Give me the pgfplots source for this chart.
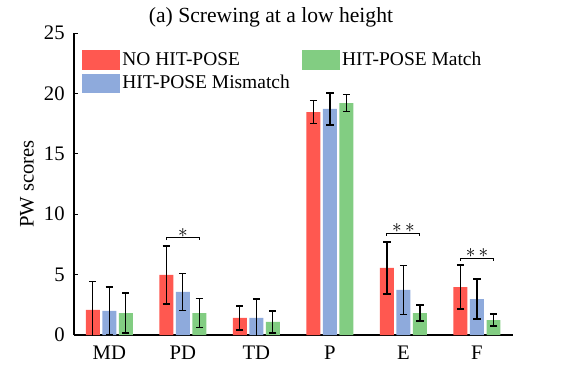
\documentclass[border=0pt]{standalone}
\usepackage{fontspec}
\setmainfont{Liberation Serif}
\usepackage{pgfplots}
\pgfplotsset{compat=1.18}
\definecolor{cRed}{RGB}{255,88,80}
\definecolor{cBlue}{RGB}{142,170,220}
\definecolor{cGreen}{RGB}{130,205,130}

\begin{document}
\begin{tikzpicture}
\begin{axis}[
  at={(0,0)}, anchor=south west,
  scale only axis, width=329.25pt, height=226.5pt,
  xmin=-0.48, xmax=5.49, ymin=0, ymax=25,
  axis x line*=bottom, axis y line*=left,
  axis line style={-, line width=0.8pt},
  ybar, bar width=0.19,
  xtick={0,...,5}, xticklabels={MD,PD,TD,P,E,F},
  ytick={0,5,...,25},
  tick align=inside, major tick length=3pt,
  tick style={black, line width=0.6pt},
  /pgf/number format/assume math mode=true,
  ticklabel style={font=\fontsize{15.5}{18}\selectfont},
  yticklabel style={xshift=-3.5pt},
  xticklabel style={yshift=-4.5pt},
  ylabel={PW scores},
  ylabel style={font=\fontsize{15.5}{18}\selectfont, at={(axis description cs:-0.107,0.5)}, anchor=center},
  error bars/y dir=both, error bars/y explicit,
  error bars/error bar style={black, line width=0.9pt},
  error bars/error mark options={black, rotate=90, mark size=2.7pt, line width=0.9pt},
  legend columns=2, legend cell align=left,
  legend style={draw=none, fill=none, inner sep=0pt, at={(axis description cs:0.018,0.947)}, anchor=north west,
    font=\fontsize{14.6}{18.5}\selectfont, row sep=2pt,
    /tikz/every even column/.append style={column sep=7pt}},
]
% NO HIT-POSE
\addplot[fill=cRed, draw=none, bar shift=-0.2245, forget plot] coordinates {
  (0,2.07) +- (0,2.35)
  (1,4.97) +- (0,2.40)
  (2,1.41) +- (0,0.99)
  (3,18.46) +- (0,0.95)
  (4,5.55) +- (0,2.15)
  (5,3.97) +- (0,1.82)
};
% HIT-POSE Mismatch
\addplot[fill=cBlue, draw=none, bar shift=0, forget plot] coordinates {
  (0,1.99) +- (0,1.98)
  (1,3.56) +- (0,1.53)
  (2,1.41) +- (0,1.57)
  (3,18.71) +- (0,1.32)
  (4,3.73) +- (0,2.00)
  (5,2.98) +- (0,1.66)
};
% HIT-POSE Match
\addplot[fill=cGreen, draw=none, bar shift=0.2245, forget plot] coordinates {
  (0,1.82) +- (0,1.66)
  (1,1.82) +- (0,1.20)
  (2,1.08) +- (0,0.91)
  (3,19.20) +- (0,0.70)
  (4,1.82) +- (0,0.66)
  (5,1.24) +- (0,0.50)
};
\addlegendimage{legend image code/.code={\fill[cRed] (0pt,-7pt) rectangle (27.75pt,6.75pt);}}
\addlegendentry{NO HIT-POSE}
\addlegendimage{legend image code/.code={\fill[cGreen] (0pt,-7pt) rectangle (27.75pt,6.75pt);}}
\addlegendentry{HIT-POSE Match}
\addlegendimage{legend image code/.code={\fill[cBlue] (0pt,-7pt) rectangle (27.75pt,6.75pt);}}
\addlegendentry{HIT-POSE Mismatch}
% significance brackets
\draw[line width=0.8pt] (axis cs:0.7755,7.86) -- (axis cs:0.7755,8.1) -- (axis cs:1.2245,8.1) -- (axis cs:1.2245,7.86);
\node[font=\fontsize{15}{18}\selectfont] at (axis cs:1,8.44) {$\ast$};
\draw[line width=0.8pt] (axis cs:3.7755,8.2) -- (axis cs:3.7755,8.44) -- (axis cs:4.2245,8.44) -- (axis cs:4.2245,8.2);
\node[font=\fontsize{15}{18}\selectfont] at (axis cs:4,8.86) {$\ast\,\ast$};
\draw[line width=0.8pt] (axis cs:4.7755,6.13) -- (axis cs:4.7755,6.37) -- (axis cs:5.2245,6.37) -- (axis cs:5.2245,6.13);
\node[font=\fontsize{15}{18}\selectfont] at (axis cs:5,6.79) {$\ast\,\ast$};
\end{axis}
\node[font=\fontsize{16.2}{19}\selectfont] at (147.75pt,238.5pt) {(a) Screwing at a low height};
\pgfresetboundingbox
\path[use as bounding box] (-55.5pt,-32.25pt) rectangle (369.75pt,251.25pt);
\end{tikzpicture}
\end{document}
